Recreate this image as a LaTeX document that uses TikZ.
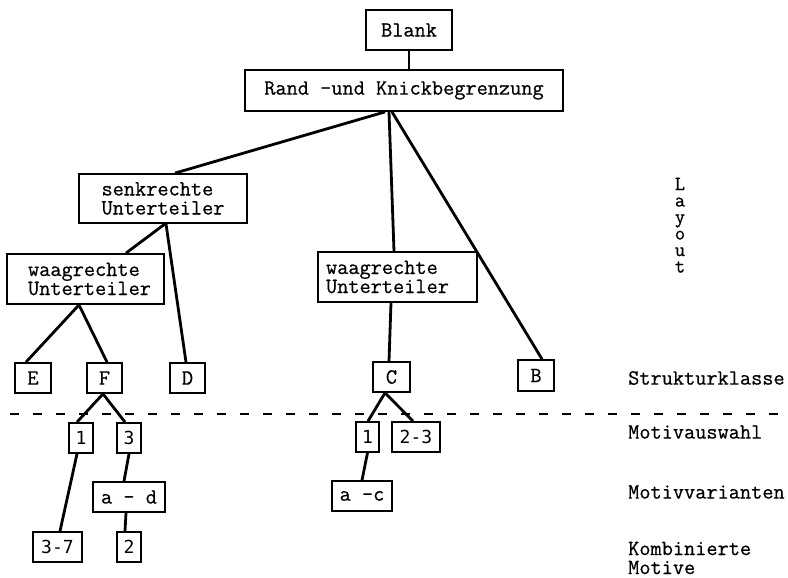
\documentclass[tikz,border=0pt]{standalone}
\usepackage{fontspec}
\setmainfont{Latin Modern Mono}[FakeBold=0.6]
\newfontfamily\digitfont{DejaVu Sans Mono}
\begin{document}
\begin{tikzpicture}[x=1pt,y=-1pt,
  bx/.style={draw, line width=1.8pt, inner sep=0pt, font=\fontsize{21.7}{19}\selectfont},
  dg/.style={bx, font=\digitfont\fontsize{18}{19}\selectfont},
  con/.style={line width=2.8pt},
  lbl/.style={anchor=west, inner sep=0pt, font=\fontsize{21.7}{19}\selectfont, align=left},
  vl/.style={anchor=base, inner sep=0pt, font=\fontsize{20}{19}\selectfont}]
\useasboundingbox (0,0) rectangle (788,578);

% boxes
\node[bx, minimum width=86pt, minimum height=40pt] (blank) at (409,30) {Blank};
\node[bx, minimum width=318pt, minimum height=41pt] (rand) at (404,90.5) {Rand -und Knickbegrenzung};
\node[bx, minimum width=168pt, minimum height=49pt, align=left] (senk) at (163,198.5) {senkrechte\\Unterteiler};
\node[bx, minimum width=157pt, minimum height=50pt, align=left] (waagL) at (85.5,279) {\hspace*{8pt}waagrechte\\\hspace*{8pt}Unterteiler};
\node[bx, minimum width=159pt, minimum height=50pt, align=left] (waagR) at (397.5,277) {waagrechte\hspace*{20pt}\\Unterteiler\hspace*{20pt}};
\node[bx, minimum width=36pt, minimum height=30pt] (E) at (33,378) {E};
\node[bx, minimum width=35pt, minimum height=30pt] (F) at (104.5,378) {F};
\node[bx, minimum width=35pt, minimum height=30pt] (D) at (187.5,378) {D};
\node[bx, minimum width=37pt, minimum height=30pt] (C) at (391.5,377) {C};
\node[bx, minimum width=36pt, minimum height=31pt] (B) at (536,375.5) {B};
\node[dg, minimum width=24pt, minimum height=30pt] (oneA) at (81,438) {1};
\node[dg, minimum width=24pt, minimum height=30pt] (three) at (129,438) {3};
\node[dg, minimum width=49pt, minimum height=30pt] (tsv) at (57.5,547) {3-7};
\node[bx, minimum width=72pt, minimum height=30pt] (ad) at (129,497) {a - d};
\node[dg, minimum width=24pt, minimum height=30pt] (two) at (129,547) {2};
\node[dg, minimum width=23pt, minimum height=30pt] (oneB) at (367.5,437) {1};
\node[dg, minimum width=48pt, minimum height=30pt] (tt) at (416,437) {2-3};
\node[bx, minimum width=60pt, minimum height=30pt] (ac) at (362,496) {a -c};

% connectors
\draw[con] (blank.south) -- (blank.south |- rand.north);
\draw[con] ([xshift=-19pt]rand.south) -- ([xshift=12pt]senk.north);
\draw[con] ([xshift=-15pt]rand.south) -- ([xshift=-3.5pt]waagR.north);
\draw[con] ([xshift=-12pt]rand.south) -- ([xshift=6pt]B.north);
\draw[con] ([xshift=2pt]senk.south) -- ([xshift=40.5pt]waagL.north);
\draw[con] ([xshift=3pt]senk.south) -- ([xshift=-1.5pt]D.north);
\draw[con] ([xshift=-6.5pt]waagL.south) -- ([xshift=-7pt]E.north);
\draw[con] ([xshift=-6.5pt]waagL.south) -- ([xshift=2.5pt]F.north);
\draw[con] ([xshift=-6.5pt]waagR.south) -- ([xshift=-2.5pt]C.north);
\draw[con] ([xshift=-1.5pt]F.south) -- ([xshift=-4pt]oneA.north);
\draw[con] ([xshift=-1.5pt]F.south) -- ([xshift=-4pt]three.north);
\draw[con] ([xshift=-4pt]oneA.south) -- ([xshift=2.5pt]tsv.north);
\draw[con] (three.south) -- ([xshift=-5pt]ad.north);
\draw[con] ([xshift=-3pt]ad.south) -- ([xshift=-4pt]two.north);
\draw[con] ([xshift=-6.5pt]C.south) -- ([xshift=0.5pt]oneB.north);
\draw[con] ([xshift=-6.5pt]C.south) -- ([xshift=-3pt]tt.north);
\draw[con] (oneB.south) -- ([xshift=0pt]ac.north);

% dashed separator
\coordinate (dl) at (10,414);
\coordinate (dr) at (788,414);
\draw[line width=2.2pt, dash pattern=on 9pt off 14pt] (dl) -- (dr);

% side labels
\node[vl] (layL) at (680,190) {L};
\node[vl] (laya) at (680,206.5) {a};
\node[vl] (layy) at (680,223) {y};
\node[vl] (layo) at (680,239.5) {o};
\node[vl] (layu) at (680,256) {u};
\node[vl] (layt) at (680,272.5) {t};
\node[lbl] (strk) at (628,378) {Strukturklasse};
\node[lbl] (mausw) at (628,432) {Motivauswahl};
\node[lbl] (mvar) at (628,492) {Motivvarianten};
\node[lbl] (komb) at (628,558) {Kombinierte\\Motive};
\end{tikzpicture}
\end{document}
